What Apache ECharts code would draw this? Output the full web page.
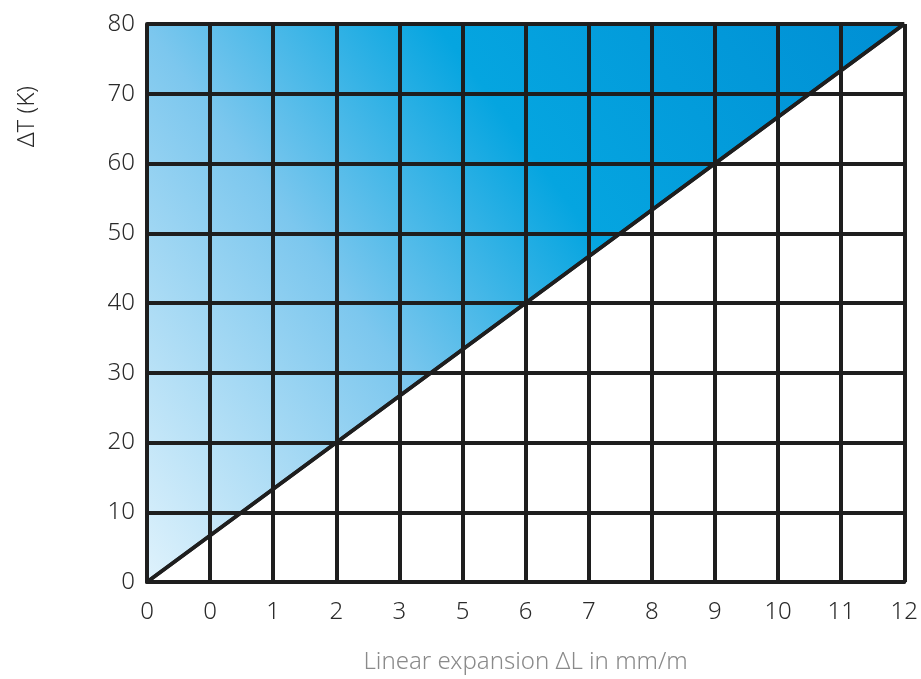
<!DOCTYPE html>
<html>
<head>
<meta charset="utf-8">
<script src="https://cdn.jsdelivr.net/npm/echarts@6/dist/echarts.min.js"></script>
<style>html,body{margin:0;padding:0;background:#fff}#c{width:921px;height:679px}</style>
</head>
<body>
<div id="c"></div>
<script>
var xTickLabels = ['0','0','1','2','3','5','6','7','8','9','10','11','12'];
var yTicks = [0,10,20,30,40,50,60,70,80];
var boundaryX = [0, 12];
var boundaryY = [0, 80];

var chart = echarts.init(document.getElementById('c'));
var lineData = boundaryX.map(function(x,i){return [x, boundaryY[i]];});
var font = 'Noto Sans';
chart.setOption({
  animation: false,
  grid: {left: 147, right: 11, top: 24, bottom: 93},
  xAxis: {
    type: 'value', min: 0, max: 12, interval: 1, z: 5,
    name: 'Linear expansion ΔL in mm/m', nameLocation: 'middle', nameGap: 68,
    nameTextStyle: {color: '#8a8a8a', fontSize: 24, fontFamily: font, fontWeight: 300},
    axisLine: {show: true, lineStyle: {color: '#1e1e1e', width: 4}},
    axisTick: {show: false},
    axisLabel: {color: '#2a2a2a', fontSize: 24, fontFamily: font, fontWeight: 300, margin: 18,
      formatter: function(v){ return xTickLabels[Math.round(v)]; }},
    splitLine: {show: true, lineStyle: {color: '#1e1e1e', width: 4}}
  },
  yAxis: {
    type: 'value', min: 0, max: 80, interval: 10, z: 5,
    axisLine: {show: true, lineStyle: {color: '#1e1e1e', width: 4}},
    axisTick: {show: false},
    axisLabel: {color: '#2a2a2a', fontSize: 24, fontFamily: font, fontWeight: 300, margin: 12,
      formatter: function(v){ return yTicks.indexOf(v) >= 0 ? String(v) : ''; }},
    splitLine: {show: true, lineStyle: {color: '#1e1e1e', width: 4}}
  },
  graphic: [{
    type: 'text', left: 15, top: 86, rotation: Math.PI/2,
    style: {text: 'ΔT (K)', fill: '#2a2a2a', fontSize: 24, fontFamily: font, fontWeight: 300}
  }],
  series: [{
    type: 'line', data: lineData, symbol: 'none', z: 2,
    lineStyle: {color: '#1e1e1e', width: 3.5},
    areaStyle: {origin: 'end', opacity: 1,
      color: new echarts.graphic.LinearGradient(0, 1, 1, 0, [
        {offset: 0, color: '#dff2fc'},
        {offset: 0.35, color: '#7cc7ee'},
        {offset: 0.6, color: '#05a5e0'},
        {offset: 1, color: '#008fd4'}
      ])}
  }, {
    type: 'line', data: lineData, symbol: 'none', z: 10,
    lineStyle: {color: '#1e1e1e', width: 3.5}
  }]
});
</script>
</body>
</html>
